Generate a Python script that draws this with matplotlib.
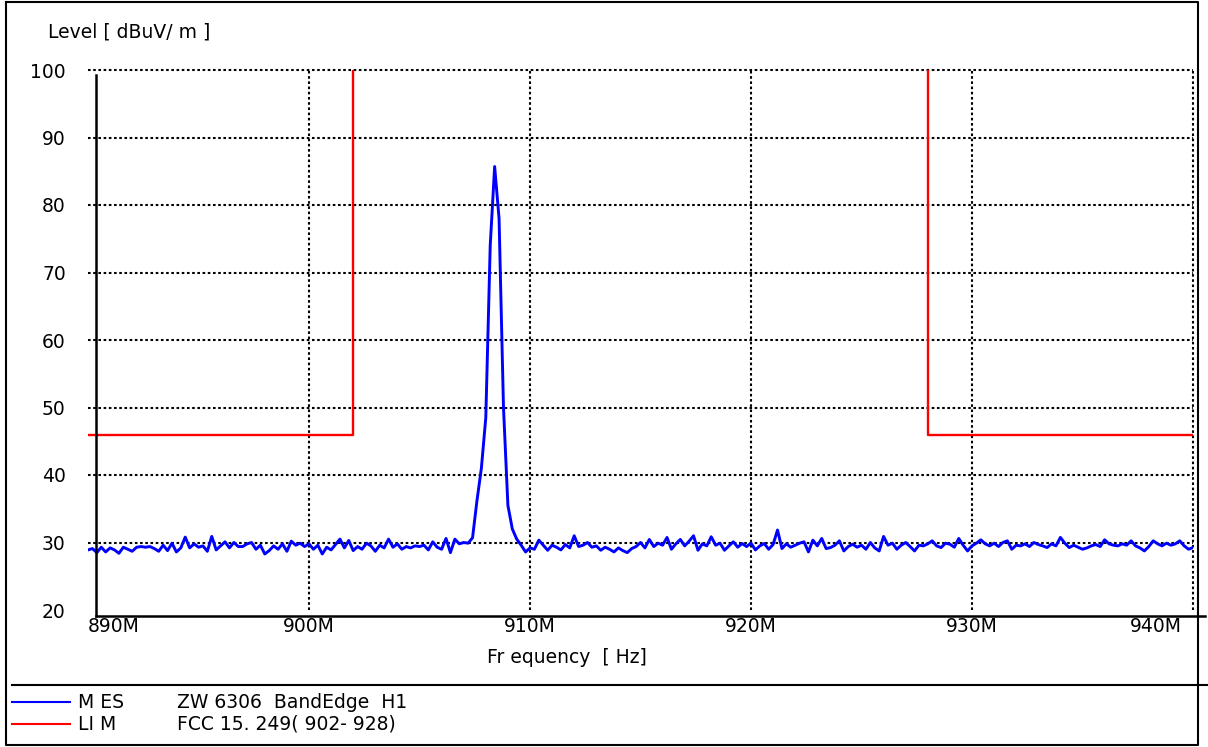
import numpy as np
import matplotlib
matplotlib.use("Agg")
import matplotlib.pyplot as plt
from matplotlib.lines import Line2D
import matplotlib.transforms as mtransforms

plt.rcParams['font.family'] = ['DejaVu Sans']

# Measured level [dBuV/m], sweep 890 MHz .. 940 MHz in 0.2 MHz steps
level = [
    28.9, 29.1, 28.5, 29.3, 28.6, 29.2, 28.9, 28.4, 29.3, 29.0,
    28.7, 29.3, 29.4, 29.3, 29.4, 29.1, 28.7, 29.6, 28.8, 29.9,
    28.6, 29.2, 30.8, 29.2, 29.8, 29.3, 29.5, 28.7, 30.9, 28.9,
    29.5, 30.1, 29.2, 30.0, 29.4, 29.4, 29.8, 30.0, 29.0, 29.6,
    28.3, 28.8, 29.5, 29.0, 29.8, 28.7, 30.2, 29.6, 29.9, 29.4,
    29.8, 29.0, 29.6, 28.3, 29.3, 28.9, 29.7, 30.5, 29.2, 30.3,
    28.8, 29.4, 29.0, 29.9, 29.5, 28.7, 29.6, 29.2, 30.5, 29.3,
    29.8, 29.0, 29.4, 29.2, 29.5, 29.4, 29.6, 28.9, 30.1, 29.3,
    29.0, 30.6, 28.5, 30.5, 29.8, 30.0, 29.9,
    30.7, 36.2, 41.0, 48.5, 74.0, 85.7, 78.0, 50.0, 35.5, 32.0, 30.5,
    29.6, 28.6, 29.2, 29.0, 30.35, 29.6, 28.85, 29.6, 29.3, 28.9,
    29.7, 29.2, 31.0, 29.4, 29.6, 30.0, 29.3, 29.5, 28.85, 29.3,
    29.0, 28.6, 29.2, 28.8, 28.5, 29.1, 29.4, 30.0, 29.2, 30.45,
    29.4, 29.9, 29.6, 30.75, 29.0, 29.8, 30.45, 29.5, 30.2, 31.0,
    28.85, 29.8, 29.5, 30.85, 29.6, 29.9, 28.85, 29.5, 30.1, 29.3,
    29.85, 29.4, 29.9, 28.9, 29.5, 29.85, 29.0, 29.7, 31.85, 29.1,
    29.8, 29.3, 29.6, 29.9, 30.1, 28.6, 30.35, 29.5, 30.6, 29.1,
    29.25, 29.6, 30.25, 28.75, 29.4, 29.75, 29.3, 29.6, 29.0, 30.0,
    29.2, 28.75, 30.9, 29.6, 29.9, 29.0, 29.6, 30.0, 29.4, 28.75,
    29.6, 29.5, 29.8, 30.25, 29.5, 29.25, 29.9, 29.75, 29.3, 30.6,
    29.6, 28.75, 29.5, 29.9, 30.4, 29.8, 29.5, 29.9, 29.4, 30.0,
    30.25, 29.0, 29.6, 29.5, 29.8, 29.4, 30.0, 29.7, 29.5, 29.25,
    29.8, 29.5, 30.75, 29.9, 29.25, 29.6, 29.3, 29.0, 29.2, 29.5,
    29.7, 29.4, 30.4, 29.8, 29.6, 29.5, 29.8, 29.6, 30.25, 29.5,
    29.2, 28.75, 29.4, 30.25, 29.8, 29.5, 29.9, 29.6, 29.8, 30.25,
    29.5, 29.0, 29.25,
]
freq = np.linspace(890, 940, len(level))

# FCC 15.249 limit, two segments outside the 902-928 MHz band
lim_lo_f = [890, 902, 902]
lim_lo_v = [46, 46, 100]
lim_hi_f = [928, 928, 940]
lim_hi_v = [100, 46, 46]

xticks = [890, 900, 910, 920, 930, 940]
xlabels = ["890M", "900M", "910M", "920M", "930M", "940M"]
yticks = [20, 30, 40, 50, 60, 70, 80, 90, 100]

W, H = 1208, 747
fig = plt.figure(figsize=(W / 100, H / 100), dpi=100)


def fx(x):
    return x / W


def fy(y):
    return 1 - y / H


ax = fig.add_axes([fx(88), fy(610), fx(1193) - fx(88), fy(70) - fy(610)])
ax.set_xlim(890, 940)
ax.set_ylim(20, 100)
for s in ax.spines.values():
    s.set_visible(False)

dot = (0, (1.25, 1.25))
for y in yticks[1:]:
    ax.axhline(y, color="black", lw=1.5, linestyle=dot, zorder=1, clip_on=False)
for x in xticks[1:]:
    ax.axvline(x, color="black", lw=1.5, linestyle=dot, zorder=1, clip_on=False)

ax.plot(lim_lo_f, lim_lo_v, color="#ff0000", lw=1.7, zorder=3)
ax.plot(lim_hi_f, lim_hi_v, color="#ff0000", lw=1.7, zorder=3)
ax.plot(freq, level, color="#0000ff", lw=2.1, zorder=4)

ax.set_xticks(xticks)
ax.set_xticklabels(xlabels)
ax.set_yticks(yticks)
ax.tick_params(length=0, labelsize=13.5)
ax.tick_params(axis="y", pad=16)
ax.tick_params(axis="x", pad=5)
tl = ax.get_xticklabels()
tl[0].set_ha("left")
tl[-1].set_ha("right")
tl[-1].set_transform(tl[-1].get_transform() +
                     mtransforms.ScaledTranslation(-11 / 100, 0, fig.dpi_scale_trans))

fig.text(fx(48), fy(38), "Level [ dBuV/ m ]", fontsize=13.5, va="baseline")
fig.text(fx(567), fy(663), "Fr equency  [ Hz]", fontsize=13.5, ha="center", va="baseline")


def fline(xs, ys, **kw):
    fig.add_artist(Line2D([fx(v) for v in xs], [fy(v) for v in ys],
                          transform=fig.transFigure, **kw))


# frame and axis lines
fline([6, 1198, 1198, 6, 6], [2, 2, 745, 745, 2], color="black", lw=1.5)
fline([96, 96], [75, 616], color="black", lw=1.8)
fline([96, 1205], [616, 616], color="black", lw=1.8)
fline([12, 1208], [685, 685], color="black", lw=1.5)

# legend
fline([12, 70], [702, 702], color="#0000ff", lw=1.5)
fline([12, 70], [724, 724], color="#ff0000", lw=1.5)
fig.text(fx(78), fy(702), "M ES", fontsize=13.5, va="center")
fig.text(fx(177), fy(702), "ZW 6306  BandEdge  H1", fontsize=13.5, va="center")
fig.text(fx(78), fy(724), "LI M", fontsize=13.5, va="center")
fig.text(fx(177), fy(724), "FCC 15. 249( 902- 928)", fontsize=13.5, va="center")

fig.savefig("out.png", dpi=100)
